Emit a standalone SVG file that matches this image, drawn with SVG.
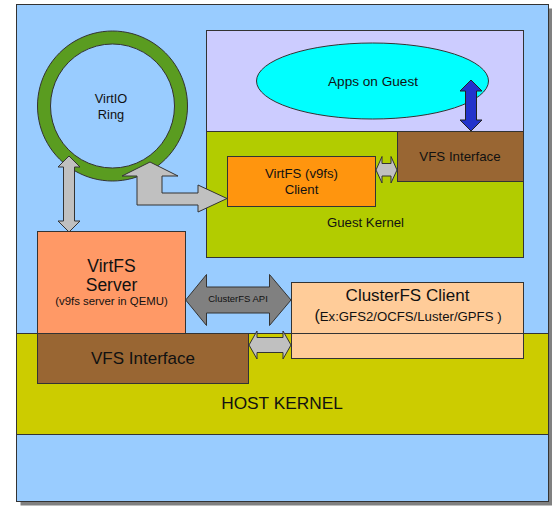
<svg xmlns="http://www.w3.org/2000/svg" width="552" height="506" viewBox="0 0 552 506">
<style>
text{font-family:"Liberation Sans",Arial,sans-serif;fill:#111;text-anchor:middle}
.b{stroke:#333;stroke-width:1}
.ga{fill:#c0c0c0;stroke:#333;stroke-width:1}
</style>
<rect x="20.5" y="8.5" width="532" height="497" fill="#808080"/>
<g id="host">
<rect class="b" x="16.5" y="4.5" width="532" height="497" fill="#99ccff"/>
<rect class="b" x="16.5" y="333.5" width="532" height="101" fill="#cccc00"/>
<text x="282" y="409" font-size="17.3">HOST KERNEL</text>
</g>
<g id="guest">
<rect class="b" x="206.5" y="30.5" width="317" height="101" fill="#ccccff"/>
<rect class="b" x="206.5" y="131.5" width="317" height="126" fill="#b2cc00"/>
<text x="365.5" y="227" font-size="13.2">Guest Kernel</text>
</g>
<g id="apps">
<ellipse class="b" cx="372.5" cy="81" rx="116" ry="38" fill="#00ffff"/>
<text x="373" y="85.5" font-size="13.6">Apps on Guest</text>
</g>
<g id="guest-vfs">
<rect class="b" x="397.5" y="131.5" width="126" height="50" fill="#996633"/>
<text x="460" y="161" font-size="13.3">VFS Interface</text>
</g>
<g id="virtfs-client">
<rect class="b" x="227.5" y="156.5" width="148" height="50" fill="#ff950e"/>
<text x="301.5" y="178" font-size="13.2">VirtFS (v9fs)</text>
<text x="301.5" y="193.5" font-size="13.2">Client</text>
</g>
<g id="virtio-ring">
<path class="b" fill="#5a9c20" fill-rule="evenodd" d="M112.5,31 a75,75 0 1,0 0.01,0 Z M112.5,44 a62,62 0 1,0 0.01,0 Z"/>
<text x="111" y="103" font-size="12.8">VirtIO</text>
<text x="111" y="119" font-size="12.8">Ring</text>
</g>
<g id="virtfs-server">
<rect class="b" x="37.5" y="231.5" width="148" height="102" fill="#ff9966"/>
<text x="111.5" y="272" font-size="17.5">VirtFS</text>
<text x="111.5" y="291" font-size="17.5">Server</text>
<text x="111.5" y="305" font-size="11.4">(v9fs server in QEMU)</text>
</g>
<g id="host-vfs">
<rect class="b" x="37.5" y="333.5" width="211" height="50" fill="#996633"/>
<text x="143" y="364" font-size="17">VFS Interface</text>
</g>
<g id="clusterfs-client">
<rect class="b" x="291.5" y="282.5" width="232" height="76" fill="#ffcc99"/>
<line x1="291.5" y1="333.5" x2="523.5" y2="333.5" stroke="#333" stroke-width="1"/>
<text x="407.5" y="301" font-size="17">ClusterFS Client</text>
<text x="408" y="321" font-size="13.2"><tspan font-size="16">(</tspan>Ex:GFS2/OCFS/Luster/GPFS )</text>
</g>
<g id="connectors">
<path d="M471,80 L482,91 L476.5,91 L476.5,120 L482,120 L471,131 L460,120 L465.5,120 L465.5,91 L460,91 Z" fill="#2233cc" stroke="#222" stroke-width="1"/>
<path class="ga" d="M376,170 L382,156.5 L382,163.5 L391,163.5 L391,156.5 L397,170 L391,183 L391,176 L382,176 L382,183 Z"/>
<path class="ga" d="M69,156 L80,167 L74.5,167 L74.5,221 L80,221 L69,232 L58,221 L63.5,221 L63.5,167 L58,167 Z"/>
<path class="ga" d="M150,162 L178,176 L162,176 L162,193 L198,193 L198,185 L227,198.5 L198,212 L198,205 L137,205 L137,176 L122,176 Z"/>
<path d="M185.7,300 L206.5,274.5 L206.5,287 L269.5,287 L269.5,274.5 L291,300 L269.5,325.5 L269.5,313 L206.5,313 L206.5,325.5 Z" fill="#808080" stroke="#333" stroke-width="1"/>
<text x="238" y="302" font-size="9.5">ClusterFS API</text>
<path class="ga" d="M249,345 L257,331 L257,337.5 L283,337.5 L283,331 L291,345 L283,359 L283,352.5 L257,352.5 L257,359 Z"/>
</g>
</svg>
